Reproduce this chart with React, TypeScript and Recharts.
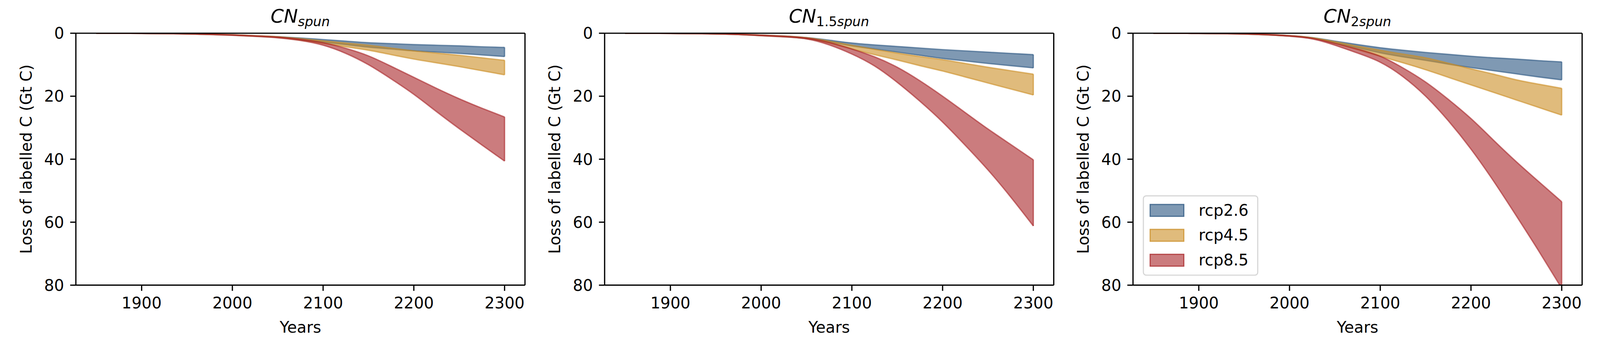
import React from "react";
import { ComposedChart, Area, XAxis, YAxis, ReferenceLine, Label } from "recharts";

// years sampled every 25 years
const years = [1850, 1875, 1900, 1925, 1950, 1975, 2000, 2025, 2050, 2075, 2100, 2125, 2150, 2175, 2200, 2225, 2250, 2275, 2300];

// CN_spun
const spunRcp26Lo = [0, 0.02, 0.05, 0.1, 0.18, 0.3, 0.5, 0.8, 1.1, 1.5, 2.0, 2.5, 3.0, 3.3, 3.6, 3.8, 4.0, 4.3, 4.5];
const spunRcp26Hi = [0, 0.03, 0.07, 0.12, 0.22, 0.38, 0.6, 0.95, 1.3, 2.0, 2.8, 3.6, 4.4, 5.0, 5.6, 6.0, 6.4, 6.9, 7.4];
const spunRcp45Lo = [0, 0.02, 0.05, 0.1, 0.18, 0.3, 0.5, 0.8, 1.1, 1.7, 2.4, 3.1, 3.8, 4.7, 5.6, 6.3, 7.0, 7.8, 8.6];
const spunRcp45Hi = [0, 0.03, 0.07, 0.12, 0.22, 0.38, 0.6, 0.95, 1.35, 2.2, 3.2, 4.3, 5.4, 6.8, 8.2, 9.4, 10.6, 11.9, 13.2];
const spunRcp85Lo = [0, 0.02, 0.05, 0.1, 0.18, 0.3, 0.52, 0.82, 1.2, 1.9, 3.0, 4.8, 7.2, 10.5, 14.0, 17.5, 20.8, 23.8, 26.6];
const spunRcp85Hi = [0, 0.03, 0.07, 0.12, 0.22, 0.4, 0.65, 1.0, 1.45, 2.3, 3.8, 6.4, 10.0, 14.5, 19.4, 24.9, 30.3, 35.5, 40.6];

// CN_1.5spun
const spun15Rcp26Lo = [0, 0.02, 0.05, 0.1, 0.18, 0.32, 0.6, 0.9, 1.4, 2.2, 3.1, 3.7, 4.2, 4.7, 5.2, 5.6, 6.0, 6.4, 6.8];
const spun15Rcp26Hi = [0, 0.03, 0.07, 0.12, 0.22, 0.4, 0.75, 1.1, 1.7, 2.7, 4.0, 5.0, 6.0, 7.0, 8.0, 8.8, 9.6, 10.3, 11.0];
const spun15Rcp45Lo = [0, 0.02, 0.05, 0.1, 0.18, 0.32, 0.6, 0.9, 1.4, 2.5, 3.8, 5.1, 6.3, 7.4, 8.4, 9.6, 10.8, 11.9, 13.0];
const spun15Rcp45Hi = [0, 0.03, 0.07, 0.12, 0.22, 0.4, 0.75, 1.1, 1.7, 3.1, 5.0, 6.8, 8.5, 10.3, 12.0, 13.9, 15.8, 17.7, 19.6];
const spun15Rcp85Lo = [0, 0.02, 0.05, 0.1, 0.18, 0.32, 0.62, 0.95, 1.5, 2.9, 5.0, 7.5, 10.8, 15.1, 20.0, 25.2, 30.4, 35.3, 40.2];
const spun15Rcp85Hi = [0, 0.03, 0.07, 0.12, 0.22, 0.42, 0.78, 1.15, 1.8, 3.7, 6.6, 10.4, 15.6, 21.6, 28.2, 35.6, 43.4, 52.0, 61.2];

// CN_2spun
const spun2Rcp26Lo = [0, 0.02, 0.05, 0.1, 0.2, 0.4, 0.75, 1.4, 2.5, 3.6, 4.6, 5.4, 6.1, 6.7, 7.3, 7.8, 8.2, 8.7, 9.1];
const spun2Rcp26Hi = [0, 0.03, 0.07, 0.12, 0.25, 0.5, 0.9, 1.6, 3.0, 4.6, 6.2, 7.5, 8.6, 9.8, 10.9, 11.9, 12.9, 13.9, 14.8];
const spun2Rcp45Lo = [0, 0.02, 0.05, 0.1, 0.2, 0.4, 0.75, 1.4, 2.7, 4.1, 5.4, 6.6, 7.8, 9.5, 11.3, 13.0, 14.8, 16.2, 17.5];
const spun2Rcp45Hi = [0, 0.03, 0.07, 0.12, 0.25, 0.5, 0.9, 1.6, 3.2, 5.2, 7.3, 9.4, 11.6, 14.0, 16.4, 18.8, 21.2, 23.6, 26.0];
const spun2Rcp85Lo = [0, 0.02, 0.05, 0.1, 0.2, 0.4, 0.8, 1.6, 3.2, 5.0, 7.3, 11.0, 15.5, 21.0, 27.1, 34.0, 40.8, 47.2, 53.5];
const spun2Rcp85Hi = [0, 0.03, 0.07, 0.12, 0.25, 0.5, 0.95, 1.8, 3.8, 6.3, 9.2, 13.8, 20.0, 27.8, 36.8, 47.0, 58.0, 69.3, 81.0];

const xTicks = [1900, 2000, 2100, 2200, 2300];
const yTicks = [0, 20, 40, 60, 80];

const scenarios = [
  { key: "rcp26", name: "rcp2.6", color: "#2a5580" },
  { key: "rcp45", name: "rcp4.5", color: "#cb8e25" },
  { key: "rcp85", name: "rcp8.5", color: "#a82528" },
];

const FONT = "DejaVu Sans";
const ALPHA = 0.6;
const X_DOMAIN = [1827.5, 2322.5];
// the page comes out slightly enlarged; shrink the layout to land on the reference grid
const FIT = 1 / 1.035;

const buildRows = (b26: number[][], b45: number[][], b85: number[][]) =>
  years.map((year, i) => ({
    year,
    rcp26: [b26[0][i], b26[1][i]],
    rcp45: [b45[0][i], b45[1][i]],
    rcp85: [b85[0][i], b85[1][i]],
  }));

const panels = [
  { sub: "spun", rows: buildRows([spunRcp26Lo, spunRcp26Hi], [spunRcp45Lo, spunRcp45Hi], [spunRcp85Lo, spunRcp85Hi]) },
  { sub: "1.5spun", rows: buildRows([spun15Rcp26Lo, spun15Rcp26Hi], [spun15Rcp45Lo, spun15Rcp45Hi], [spun15Rcp85Lo, spun15Rcp85Hi]) },
  { sub: "2spun", rows: buildRows([spun2Rcp26Lo, spun2Rcp26Hi], [spun2Rcp45Lo, spun2Rcp45Hi], [spun2Rcp85Lo, spun2Rcp85Hi]) },
];

const tickStyle = { fill: "#000", fontSize: 41.7, fontFamily: FONT };
const axisLine = { stroke: "#000", strokeWidth: 3.3 };

const renderYLabel = (props: any) => {
  const vb = props.viewBox || {};
  const cx = (vb.x || 0) + 69;
  const cy = (vb.y || 0) + (vb.height || 0) / 2;
  return (
    <text x={cx} y={cy} transform={`rotate(-90 ${cx} ${cy})`} textAnchor="middle" dominantBaseline="central"
      fontFamily={FONT} fontSize={41.7} fill="#000">
      Loss of labelled C (Gt C)
    </text>
  );
};

const renderXLabel = (props: any) => {
  const vb = props.viewBox || {};
  const cx = (vb.x || 0) + (vb.width || 0) / 2;
  return (
    <text x={cx} y={881} textAnchor="middle" fontFamily={FONT} fontSize={41.7} fill="#000">
      Years
    </text>
  );
};

const Title = ({ sub }: { sub: string }) => {
  const num = (sub.match(/^[0-9.]*/) || [""])[0];
  const rest = sub.slice(num.length);
  return (
    <svg width={1400} height={120} style={{ position: "absolute", left: 0, top: 0, pointerEvents: "none" }}>
      <text x={795.5} y={60} textAnchor="middle" fontFamily={FONT} fontSize={50} fill="#000">
        <tspan fontStyle="italic">CN</tspan>
        {num && <tspan fontSize={35} dy={9}>{num}</tspan>}
        <tspan fontSize={35} fontStyle="italic" dy={num ? 0 : 9}>{rest}</tspan>
      </text>
    </svg>
  );
};

const LegendBox = () => (
  <div style={{
    position: "absolute", left: 227, top: 517, width: 300, height: 207, boxSizing: "content-box",
    border: "3px solid #d6d6d6", borderRadius: 9, background: "rgba(255,255,255,0.8)",
    fontFamily: FONT, fontSize: 41.7, color: "#000",
  }}>
    {scenarios.map((s, i) => (
      <div key={s.key} style={{ position: "absolute", left: 15, top: 20 + i * 66, height: 34, display: "flex", alignItems: "center" }}>
        <div style={{
          width: 86, height: 28,
          backgroundColor: `color-mix(in srgb, ${s.color} 60%, white)`,
          border: `3.5px solid color-mix(in srgb, ${s.color} 84%, white)`,
        }} />
        <span style={{ marginLeft: 38, lineHeight: "34px" }}>{s.name}</span>
      </div>
    ))}
  </div>
);

const Panel = ({ sub, rows, left, legend }: { sub: string; rows: any[]; left: number; legend: boolean }) => {
  const last = rows[rows.length - 1];
  return (
    <div style={{ position: "absolute", left, top: 0, width: 1400, height: 903 }}>
      <ComposedChart width={1400} height={903} data={rows} margin={{ top: 88, right: 9, bottom: 48, left: 0 }}>
        <XAxis dataKey="year" type="number" domain={X_DOMAIN} ticks={xTicks} allowDataOverflow
          height={100} tick={tickStyle} tickSize={15} tickMargin={17} axisLine={axisLine} tickLine={axisLine}>
          <Label content={renderXLabel} />
        </XAxis>
        <YAxis type="number" reversed domain={[0, 80]} ticks={yTicks} allowDataOverflow width={201}
          tick={tickStyle} tickSize={15} tickMargin={16} axisLine={axisLine} tickLine={axisLine}>
          <Label content={renderYLabel} />
        </YAxis>
        {scenarios.map((s) => (
          <Area key={s.key} dataKey={s.key} name={s.name} type="natural" fill={s.color} fillOpacity={ALPHA}
            stroke={s.color} strokeOpacity={ALPHA} strokeWidth={3.5} isAnimationActive={false} dot={false}
            activeDot={false} />
        ))}
        {scenarios.map((s) => (
          <ReferenceLine key={s.key + "-end"} ifOverflow="hidden"
            segment={[{ x: last.year, y: last[s.key][0] }, { x: last.year, y: last[s.key][1] }]}
            stroke={s.color} strokeOpacity={ALPHA} strokeWidth={3.5} />
        ))}
        {/* top and right spines */}
        <ReferenceLine y={0} stroke="#000" strokeWidth={3.3} ifOverflow="visible" />
        <ReferenceLine x={X_DOMAIN[1]} stroke="#000" strokeWidth={3.3} ifOverflow="visible" />
      </ComposedChart>
      <Title sub={sub} />
      {legend && <LegendBox />}
    </div>
  );
};

export default function App() {
  return (
    <div style={{
      position: "absolute", left: 0, top: 0, width: 4231, height: 903, background: "#fff",
      transform: `scale(${FIT})`, transformOrigin: "0 0",
    }}>
      {panels.map((p, i) => (
        <Panel key={p.sub} sub={p.sub} rows={p.rows} left={Math.round(i * 1400.5)} legend={i === 2} />
      ))}
    </div>
  );
}
